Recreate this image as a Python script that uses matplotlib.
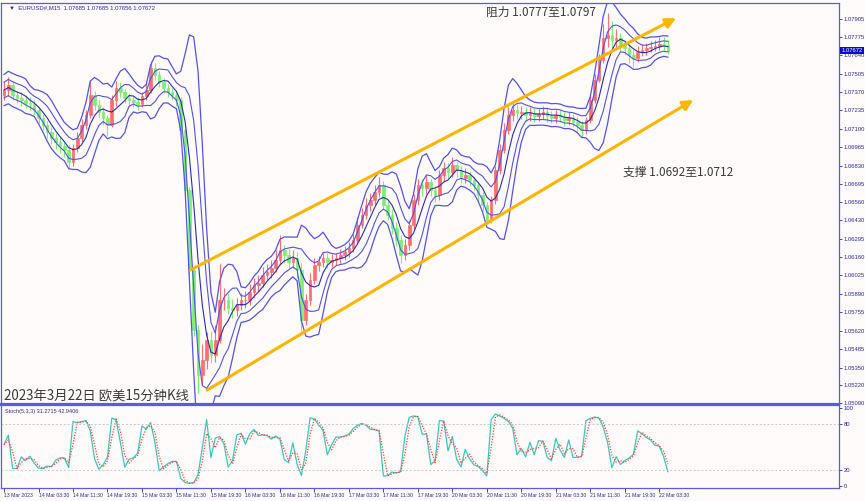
import numpy as np
import pandas as pd
import matplotlib
matplotlib.use("Agg")
import matplotlib.pyplot as plt

plt.rcParams['font.family'] = ['Liberation Sans', 'DejaVu Sans']
CJK = ['Noto Sans CJK SC', 'DejaVu Sans']

closes = [
    1.07384, 1.07421, 1.07348, 1.07326, 1.07311, 1.07289, 1.07282, 1.07238,
    1.07179, 1.07128, 1.07076, 1.07032, 1.07003, 1.06974, 1.06944, 1.06857,
    1.06959, 1.07032, 1.07128, 1.07201, 1.07348, 1.07274, 1.07223, 1.07179,
    1.07128, 1.07311, 1.07399, 1.07370, 1.07326, 1.07311, 1.07296, 1.07282,
    1.07340, 1.07384, 1.07546, 1.07494, 1.07443, 1.07399, 1.07370, 1.07348,
    1.07311, 1.07091, 1.06651, 1.06065, 1.05625, 1.05295, 1.05405, 1.05552,
    1.05442, 1.05552, 1.05845, 1.05845, 1.05786, 1.05772, 1.05808, 1.05845,
    1.05845, 1.05904, 1.05955, 1.05970, 1.06028, 1.06050, 1.06080, 1.06138,
    1.06212, 1.06175, 1.06124, 1.06153, 1.06065, 1.05698, 1.05845, 1.05992,
    1.06102, 1.06124, 1.06153, 1.06124, 1.06138, 1.06153, 1.06175, 1.06197,
    1.06226, 1.06285, 1.06395, 1.06468, 1.06541, 1.06578, 1.06637, 1.06688,
    1.06541, 1.06468, 1.06373, 1.06285, 1.06175, 1.06248, 1.06395, 1.06578,
    1.06688, 1.06666, 1.06710, 1.06651, 1.06615, 1.06761, 1.06813, 1.06783,
    1.06835, 1.06798, 1.06739, 1.06761, 1.06725, 1.06688, 1.06615, 1.06541,
    1.06431, 1.06578, 1.06798, 1.06944, 1.07091, 1.07201, 1.07238, 1.07216,
    1.07223, 1.07201, 1.07216, 1.07194, 1.07208, 1.07223, 1.07194, 1.07179,
    1.07201, 1.07186, 1.07164, 1.07179, 1.07150, 1.07128, 1.07091, 1.07164,
    1.07311, 1.07458, 1.07604, 1.07765, 1.07787, 1.07751, 1.07765, 1.07714,
    1.07692, 1.07641, 1.07619, 1.07663, 1.07677, 1.07692, 1.07699, 1.07707,
    1.07721, 1.07714, 1.07672,
]
highs = [
    1.0745, 1.0748, 1.0745, 1.0738, 1.0737, 1.0735, 1.0733, 1.0731,
    1.0726, 1.0721, 1.0716, 1.0711, 1.0707, 1.0704, 1.0701, 1.0698,
    1.0699, 1.0708, 1.0717, 1.0724, 1.0745, 1.0738, 1.0731, 1.0726,
    1.0720, 1.0735, 1.0745, 1.0744, 1.0739, 1.0736, 1.0734, 1.0733,
    1.0737, 1.0743, 1.0760, 1.0758, 1.0752, 1.0747, 1.0743, 1.0740,
    1.0738, 1.0733, 1.0711, 1.0667, 1.0609, 1.0566, 1.0552, 1.0561,
    1.0562, 1.0566, 1.0611, 1.0593, 1.0590, 1.0585, 1.0586, 1.0590,
    1.0591, 1.0596, 1.0601, 1.0603, 1.0609, 1.0611, 1.0614, 1.0621,
    1.0632, 1.0625, 1.0622, 1.0621, 1.0620, 1.0612, 1.0589, 1.0604,
    1.0615, 1.0617, 1.0619, 1.0619, 1.0618, 1.0619, 1.0622, 1.0624,
    1.0627, 1.0633, 1.0645, 1.0652, 1.0659, 1.0663, 1.0669, 1.0675,
    1.0672, 1.0657, 1.0651, 1.0642, 1.0632, 1.0629, 1.0643, 1.0662,
    1.0673, 1.0673, 1.0676, 1.0673, 1.0668, 1.0680, 1.0686, 1.0685,
    1.0689, 1.0686, 1.0683, 1.0681, 1.0679, 1.0675, 1.0671, 1.0664,
    1.0656, 1.0661, 1.0683, 1.0699, 1.0714, 1.0726, 1.0730, 1.0728,
    1.0727, 1.0726, 1.0726, 1.0725, 1.0725, 1.0727, 1.0726, 1.0723,
    1.0724, 1.0724, 1.0722, 1.0722, 1.0721, 1.0719, 1.0716, 1.0719,
    1.0735, 1.0750, 1.0765, 1.0787, 1.0795, 1.0789, 1.0783, 1.0780,
    1.0775, 1.0772, 1.0768, 1.0771, 1.0772, 1.0773, 1.0774, 1.0775,
    1.0777, 1.0777, 1.0775,
]
lows = [
    1.0731, 1.0734, 1.0731, 1.0729, 1.0727, 1.0725, 1.0724, 1.0720,
    1.0714, 1.0709, 1.0703, 1.0699, 1.0695, 1.0692, 1.0689, 1.0681,
    1.0683, 1.0693, 1.0700, 1.0710, 1.0718, 1.0724, 1.0718, 1.0713,
    1.0705, 1.0711, 1.0727, 1.0733, 1.0729, 1.0727, 1.0726, 1.0724,
    1.0726, 1.0731, 1.0736, 1.0746, 1.0741, 1.0736, 1.0733, 1.0731,
    1.0727, 1.0706, 1.0662, 1.0603, 1.0558, 1.0516, 1.0522, 1.0534,
    1.0538, 1.0539, 1.0553, 1.0577, 1.0574, 1.0571, 1.0573, 1.0577,
    1.0579, 1.0581, 1.0586, 1.0591, 1.0594, 1.0599, 1.0601, 1.0605,
    1.0610, 1.0612, 1.0607, 1.0608, 1.0601, 1.0562, 1.0566, 1.0581,
    1.0596, 1.0606, 1.0609, 1.0608, 1.0609, 1.0610, 1.0612, 1.0614,
    1.0616, 1.0620, 1.0626, 1.0637, 1.0644, 1.0650, 1.0654, 1.0660,
    1.0651, 1.0643, 1.0633, 1.0624, 1.0612, 1.0614, 1.0621, 1.0636,
    1.0654, 1.0661, 1.0662, 1.0661, 1.0656, 1.0658, 1.0672, 1.0674,
    1.0675, 1.0675, 1.0670, 1.0670, 1.0668, 1.0665, 1.0657, 1.0650,
    1.0640, 1.0641, 1.0655, 1.0677, 1.0692, 1.0706, 1.0716, 1.0717,
    1.0717, 1.0716, 1.0716, 1.0715, 1.0716, 1.0717, 1.0715, 1.0714,
    1.0714, 1.0715, 1.0712, 1.0713, 1.0711, 1.0708, 1.0703, 1.0706,
    1.0714, 1.0729, 1.0744, 1.0758, 1.0770, 1.0769, 1.0770, 1.0767,
    1.0764, 1.0758, 1.0755, 1.0759, 1.0763, 1.0764, 1.0766, 1.0767,
    1.0768, 1.0768, 1.0765,
]
first_open = 1.07350

time_labels = [
    "13 Mar 2023", "14 Mar 03:30", "14 Mar 11:30", "14 Mar 19:30",
    "15 Mar 03:30", "15 Mar 11:30", "15 Mar 19:30", "16 Mar 03:30",
    "16 Mar 11:30", "16 Mar 19:30", "17 Mar 03:30", "17 Mar 11:30",
    "17 Mar 19:30", "20 Mar 03:30", "20 Mar 11:30", "20 Mar 19:30",
    "21 Mar 03:30", "21 Mar 11:30", "21 Mar 19:30", "22 Mar 03:30",
]
label_hours = list(range(0, 160, 8))

price_ticks = [
    1.07905, 1.07775, 1.07640, 1.07505, 1.07370, 1.07235, 1.07100, 1.06965,
    1.06830, 1.06695, 1.06560, 1.06430, 1.06295, 1.06160, 1.06025, 1.05890,
    1.05755, 1.05620, 1.05485, 1.05350, 1.05220, 1.05090,
]
stoch_ticks = [0, 20, 80, 100]

# trend channel drawn on the chart: (hour, price)
resistance_line = [(43.2, 1.06065), (155.9, 1.07912)]
support_line = [(47.1, 1.05185), (159.9, 1.07311)]

c = pd.Series(closes)
hi = pd.Series(highs)
lo = pd.Series(lows)
o = pd.Series([first_open] + closes[:-1])
h = np.arange(len(c))

# bollinger bands over 20 M15 bars = 5 hours; spread taken from the
# high/low/close of each hour so the intrahour moves count
mid = c.rolling(5, min_periods=1).mean()
hlc = np.column_stack([hi, lo, c])
sd = pd.Series([hlc[max(0, i - 4):i + 1].std() for i in range(len(c))])

# stochastic
ll = lo.rolling(2, min_periods=1).min()
hh = hi.rolling(2, min_periods=1).max()
k = ((c - ll) / (hh - ll) * 100).fillna(50)
d = k.rolling(2, min_periods=1).mean()

W, H = 865, 501
bg = "#fffbfa"
frame = "#5b5bdc"
navy = "#2a2a9a"

fig = plt.figure(figsize=(W / 100, H / 100), dpi=100, facecolor=bg)
ax = fig.add_axes([1 / W, 1 - 404 / H, 838 / W, 401 / H], facecolor=bg)
ax2 = fig.add_axes([1 / W, 1 - 488 / H, 838 / W, 83 / H], facecolor=bg)

red, green = "#ff6f6f", "#79f070"
up = (c >= o).to_numpy()
for mask, col in ((up, red), (~up, green)):
    ax.vlines(h[mask], lo[mask], hi[mask], color=col, lw=0.8)
    ax.bar(h[mask], (c - o)[mask], bottom=o[mask], width=0.6, color=col,
           edgecolor=col, linewidth=0.5)

band = "#5252e6"
ax.plot(h, mid + 2 * sd, color=band, lw=0.9)
ax.plot(h, mid - 2 * sd, color=band, lw=0.9)
ax.plot(h, mid + sd, color=band, lw=0.8)
ax.plot(h, mid - sd, color=band, lw=0.8)
ax.plot(h, mid, color="#2b2bb0", lw=0.8)

gold = "#ffb400"
for line in (resistance_line, support_line):
    (x0, y0), (x1, y1) = line
    ax.annotate("", xy=(x1, y1), xytext=(x0, y0),
                arrowprops=dict(arrowstyle="-|>,head_length=0.6,head_width=0.3",
                                color=gold, lw=2.2, shrinkA=0, shrinkB=0))

ax.set_xlim(-0.7, 193.7)
ax.set_ylim(1.05083, 1.08022)
ax.yaxis.tick_right()
ax.set_yticks(price_ticks)
ax.set_yticklabels([f"{p:.5f}" for p in price_ticks])
ax.tick_params(axis="y", labelsize=4.2, colors=navy, length=2, width=0.6, pad=1.5)
ax.set_xticks([])

ax2.plot(h, k, color="#3cc6b8", lw=0.9)
ax2.plot(h, d, color="#ff4040", lw=0.9, ls=(0, (1, 1.2)))
for lvl in (20, 80):
    ax2.axhline(lvl, color="#c8c8c8", lw=0.7, ls=(0, (2, 2)))
ax2.set_xlim(-0.7, 193.7)
ax2.set_ylim(-2.6, 103.8)
ax2.yaxis.tick_right()
ax2.set_yticks(stoch_ticks)
ax2.tick_params(axis="y", labelsize=4.2, colors=navy, length=2, width=0.6, pad=1.5)
ax2.set_xticks(label_hours)
ax2.set_xticklabels(time_labels, ha="left")
ax2.tick_params(axis="x", labelsize=3.7, colors=navy, length=3, width=0.6, pad=0.5)

for a in (ax, ax2):
    for s in a.spines.values():
        s.set_color(frame)
        s.set_linewidth(0.9)
ax.spines["bottom"].set_linewidth(1.6)
ax2.spines["top"].set_linewidth(1.6)

# current price tag
ax.annotate(f"{closes[-1]:.5f}", xy=(1.0, closes[-1]),
            xycoords=("axes fraction", "data"), xytext=(1.5, 0),
            textcoords="offset points", va="center", ha="left", fontsize=4.2,
            color="white", bbox=dict(boxstyle="square,pad=0.2", fc="#0a0ad0", ec="none"))

fig.text(9 / W, 1 - 8 / H, "\u25bc  EURUSD#,M15  1.07685 1.07685 1.07656 1.07672",
         fontsize=4.3, color=navy, va="center")
fig.text(5 / W, 1 - 411 / H, "Stoch(5,3,3) 31.2715 42.9406",
         fontsize=4, color=navy, va="center")
fig.text(486 / W, 1 - 12 / H, "阻力 1.0777至1.0797", family=CJK,
         fontsize=8.5, color="#3a3a3a", va="center")
fig.text(623 / W, 1 - 172 / H, "支撑 1.0692至1.0712", family=CJK,
         fontsize=8.5, color="#3a3a3a", va="center")
fig.text(4 / W, 1 - 396 / H, "2023年3月22日 欧美15分钟K线", family=CJK,
         fontsize=9.6, color="#3a3a3a", va="center")

fig.savefig("out.png", dpi=100, facecolor=bg)
